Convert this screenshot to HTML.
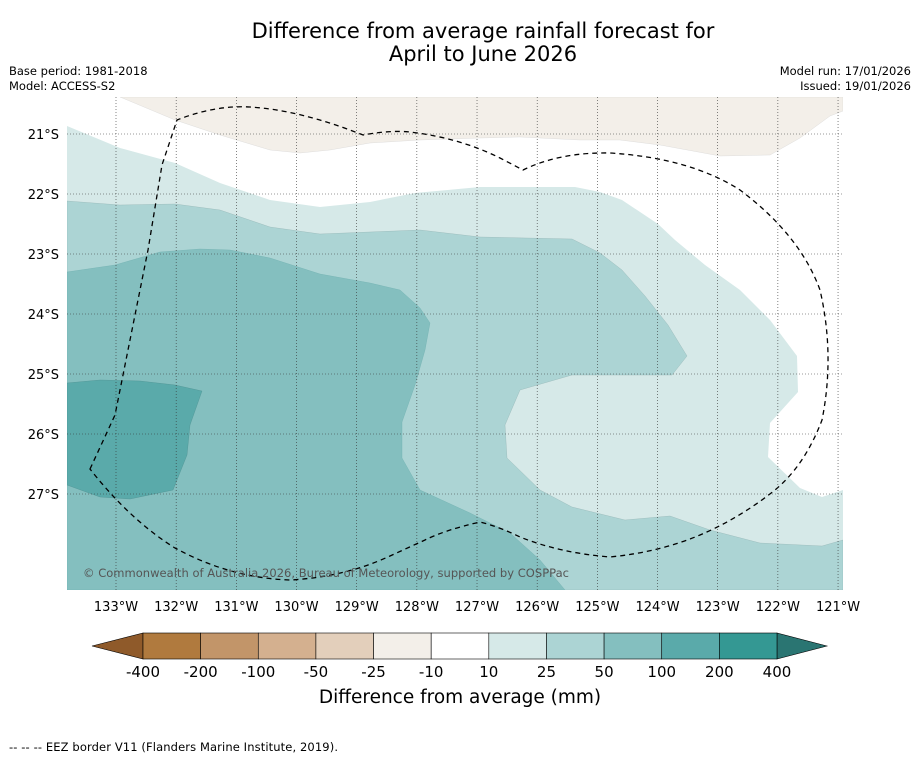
<!DOCTYPE html>
<html><head><meta charset="utf-8">
<style>
html,body{margin:0;padding:0;background:#fff;}
body{width:919px;height:758px;overflow:hidden;font-family:"DejaVu Sans","Liberation Sans",sans-serif;}
svg{display:block}
</style></head>
<body>
<svg id="chart" width="919" height="758" viewBox="0 0 919 758">
<text x="483" y="38" text-anchor="middle" font-size="21" fill="#000">Difference from average rainfall forecast for</text>
<text x="483" y="61" text-anchor="middle" font-size="21" fill="#000">April to June 2026</text>
<text x="9" y="75" font-size="11.5">Base period: 1981-2018</text>
<text x="9" y="90" font-size="11.5">Model: ACCESS-S2</text>
<text x="911" y="75" font-size="11.5" text-anchor="end">Model run: 17/01/2026</text>
<text x="911" y="90" font-size="11.5" text-anchor="end">Issued: 19/01/2026</text>
<defs><clipPath id="mapclip"><rect x="67" y="97" width="776" height="493"/></clipPath></defs>
<g clip-path="url(#mapclip)" id="map">
<rect x="67" y="97" width="776" height="493" fill="#d6e9e8"/>
<polygon fill="#ffffff" points="67,97 843,97 843,490 822,497 800,488 768,457 770,423 798,392 797,356 770,320 740,290 705,265 675,240 658,224 622,200 600,192 575,187 480,187 415,193 370,202 320,207 270,200 220,183 175,163 120,148 67,126"/>
<polygon fill="#f3efe9" stroke="#ccc" stroke-width="0.3" points="120,97 175,120 220,135 270,150 300,153 330,150 370,143 420,140 480,138 520,137 580,140 620,140 660,145 720,156 770,155 800,138 830,116 843,111 843,97"/>
<polygon fill="#acd4d4" stroke="#8aa" stroke-width="0.3" points="67,201 120,205 175,204 220,210 270,227 320,234 420,230 480,237 572,239 600,253 622,270 645,296 668,325 687,356 672,375 640,375 572,375 520,390 505,425 507,458 540,490 572,507 625,520 670,516 710,530 760,543 822,546 843,540 843,590 67,590"/>
<polygon fill="#84bfbf" stroke="#6aa" stroke-width="0.3" points="67,272 115,265 160,252 200,249 230,250 270,258 320,274 370,283 400,290 420,308 430,323 425,350 415,385 402,422 402,458 420,490 470,513 510,533 540,560 565,590 67,590"/>
<polygon fill="#5aaaaa" stroke="#488" stroke-width="0.3" points="67,383 100,380 140,381 175,385 202,391 190,425 187,455 173,490 130,499 100,497 67,485"/>
<g id="grid"></g>
<path fill="none" stroke="#000" stroke-width="1.3" stroke-dasharray="5,4" d="M90,469 L115,415 L130,340 L148,250 L162,165 L177,120 Q215,105 250,107 Q300,110 363,135 Q390,130 410,132 Q460,138 500,158 L523,170 Q560,152 610,153 Q690,158 740,190 Q800,235 820,290 Q835,355 822,420 Q805,465 775,490 Q740,518 700,535 Q660,552 610,557 Q560,553 520,537 Q500,527 480,522 Q445,530 425,540 L390,556 Q345,577 290,580 Q230,578 175,548 Q130,520 90,469 Z"/>
<text x="83" y="577" font-size="11.5" fill="#555" textLength="486">© Commonwealth of Australia 2026, Bureau of Meteorology, supported by COSPPac</text>
</g>
<g id="axes"></g>
<g id="colorbar"></g>
<text x="460" y="703" text-anchor="middle" font-size="18.5">Difference from average (mm)</text>
<text x="9" y="751" font-size="11.5" textLength="329">--  --  -- EEZ border V11 (Flanders Marine Institute, 2019).</text>
</svg>
<script>
const lonTicks=[133,132,131,130,129,128,127,126,125,124,123,122,121];
const latTicks=[21,22,23,24,25,26,27];
const cbLabels=["-400","-200","-100","-50","-25","-10","10","25","50","100","200","400"];
const cbColors=["#b07a3e","#c29569","#d4b08f","#e3cfbb","#f3efe9","#ffffff","#d6e9e8","#acd4d4","#84bfbf","#5aaaaa","#349893"];
const NS="http://www.w3.org/2000/svg";
function X(lonW){return 116+(133-lonW)*60.17;}
function Y(latS){return 134+(latS-21)*60;}
function mk(t,a,p){const e=document.createElementNS(NS,t);for(const k in a)e.setAttribute(k,a[k]);p.appendChild(e);return e;}
const grid=document.getElementById('grid'),axes=document.getElementById('axes');
lonTicks.forEach(l=>{
 const ln=mk('line',{x1:X(l),x2:X(l),y1:97,y2:590,stroke:'#333','stroke-width':0.6,'stroke-dasharray':'1,2'},grid);
 
 
 const t=mk('text',{x:X(l),y:611,'text-anchor':'middle','font-size':13},axes);
 t.textContent=l+'°W';
 
 
});
latTicks.forEach(l=>{
 const ln=mk('line',{x1:67,x2:843,y1:Y(l),y2:Y(l),stroke:'#333','stroke-width':0.6,'stroke-dasharray':'1,2'},grid);
 
 
 const t=mk('text',{x:59,y:Y(l)+5,'text-anchor':'end','font-size':13},axes);
 t.textContent=l+'°S';
 
 
});
const cb=document.getElementById('colorbar');
const x0=143,x1=777,y0=633,h=26,w=(x1-x0)/cbColors.length;
const l=mk('polygon',{points:`92,646 ${x0},${y0} ${x0},${y0+h}`,fill:'#8f5a2a',stroke:'#000','stroke-width':0.6},cb);


const r=mk('polygon',{points:`827,646 ${x1},${y0} ${x1},${y0+h}`,fill:'#2a7572',stroke:'#000','stroke-width':0.6},cb);


cbColors.forEach((c,i)=>{
 const b=mk('rect',{x:x0+i*w,y:y0,width:w,height:h,fill:c,stroke:'#000','stroke-width':0.6},cb);
 
 
});
cbLabels.forEach((s,i)=>{
 const t=mk('text',{x:x0+i*w,y:677,'text-anchor':'middle','font-size':15},cb);
 t.textContent=s;
 
 
});
</script>
</body></html>
